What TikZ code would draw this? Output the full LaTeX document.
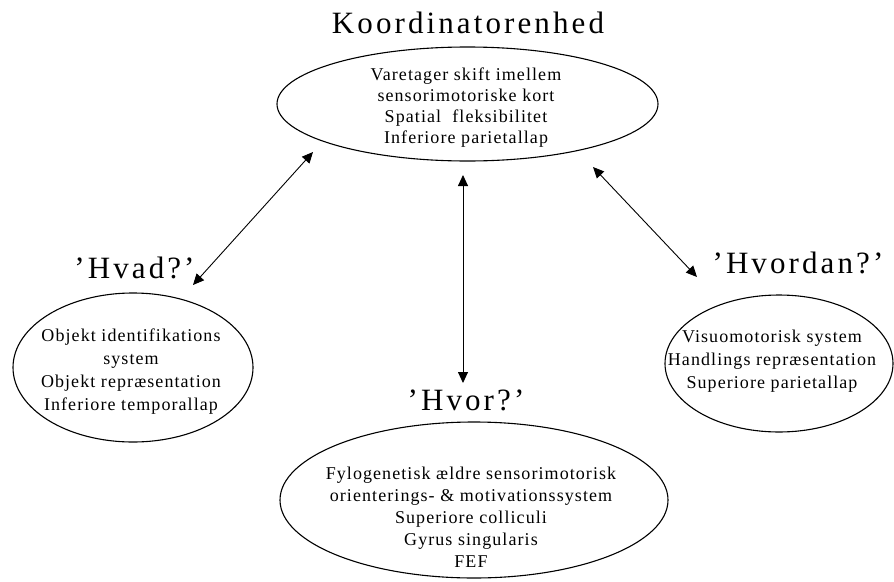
\documentclass[tikz,border=0pt]{standalone}
\usepackage{fontspec}
\setmainfont{Liberation Serif}
\newfontfamily\bodyfont[LetterSpace=6]{Liberation Serif}
\newfontfamily\headfont[LetterSpace=10]{Liberation Serif}
\usetikzlibrary{shapes.geometric,arrows.meta}
\begin{document}
\begin{tikzpicture}[x=1pt,y=-1pt,
  oval/.style={draw, ellipse, line width=1.1pt, inner sep=0pt},
  body/.style={font=\bodyfont\fontsize{18}{#1}\selectfont, align=center, inner sep=0pt},
  head/.style={font=\headfont\fontsize{31}{34}\selectfont, anchor=base, inner sep=0pt},
  link/.style={line width=0.9pt, {Triangle[length=11pt,width=10pt]}-{Triangle[length=11pt,width=10pt]}}]
\useasboundingbox (0,0) rectangle (894,581);
% ellipses
\node[oval, minimum width=381pt, minimum height=114pt] (koord) at (467.5,104) {};
\node[oval, minimum width=240pt, minimum height=149pt] (hvad) at (133,367.5) {};
\node[oval, minimum width=228pt, minimum height=137pt] (hvordan) at (779,363.5) {};
\node[oval, minimum width=388pt, minimum height=156pt] (hvor) at (474,500) {};
% texts inside
\node[body=21] (koordtxt) at (466,108) {Varetager skift imellem\\sensorimotoriske kort\\Spatial\ \ fleksibilitet\\Inferiore parietallap};
\node[body=23] (hvadtxt) at (131,371.5) {Objekt identifikations\\system\\Objekt repræsentation\\Inferiore temporallap};
\node[body=23] (hvordantxt) at (772,361) {Visuomotorisk system\\Handlings repræsentation\\Superiore parietallap};
\node[body=22] (hvortxt) at (471,517) {Fylogenetisk ældre sensorimotorisk\\orienterings- \& motivationssystem\\Superiore colliculi\\Gyrus singularis\\FEF};
% headings
\node[head] (ttl) at (468,33) {Koordinatorenhed};
\node[head] (hvadl) at (134.5,278) {’Hvad?’};
\node[head] (hvordanl) at (798,273) {’Hvordan?’};
\node[head] (hvorl) at (466,410) {’Hvor?’};
% arrows
\coordinate (a1) at (313,152); \coordinate (a2) at (193,285);
\coordinate (b1) at (463,175); \coordinate (b2) at (463,383);
\coordinate (c1) at (593,167); \coordinate (c2) at (697,277);
\draw[link] (a1) -- (a2);
\draw[link] (b1) -- (b2);
\draw[link] (c1) -- (c2);
\end{tikzpicture}
\end{document}
